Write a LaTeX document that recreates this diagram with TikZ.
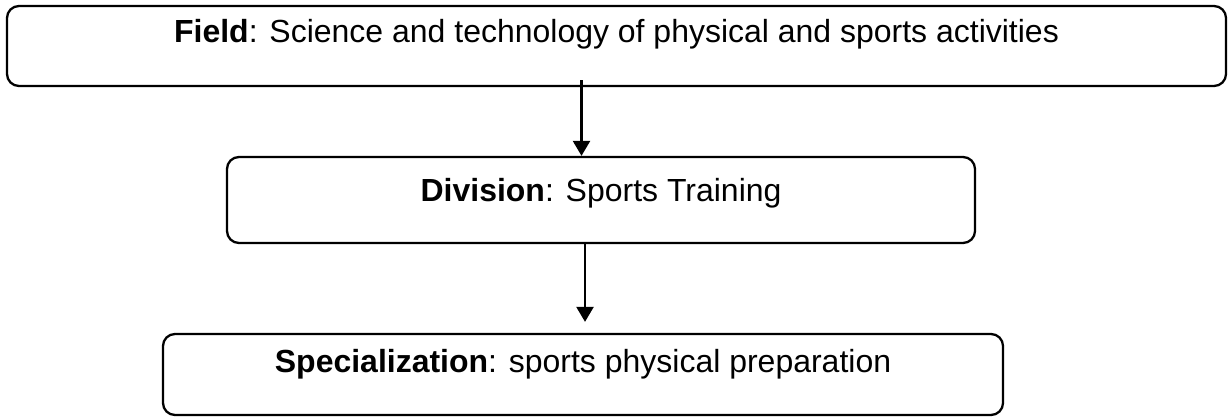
\documentclass[tikz,border=0pt]{standalone}
\usepackage{fontspec}
\setmainfont{Liberation Sans}
\usetikzlibrary{arrows.meta}
\begin{document}
\begin{tikzpicture}[scale=1, transform shape]
			\tikzset{>={Triangle[width=0.17cm,length=0.15cm]}}
			\tikzset{level/.style={draw,line width=0.65pt,rounded corners=0.12cm,inner sep=0pt,text height=0.23cm,font=\fontsize{9.1pt}{11pt}\selectfont}}
			\useasboundingbox (0,0) rectangle (12.28,4.16);

			\node[level,minimum width=12.19cm,minimum height=0.80cm,text depth=0.29cm] (field) at (6.165,3.70) {\textbf{Field}: Science and technology of physical and sports activities};
			\node[level,minimum width=7.48cm,minimum height=0.86cm,text depth=0.19cm] (division) at (6.01,2.16) {\textbf{Division}: Sports Training};
			\node[level,minimum width=8.40cm,minimum height=0.81cm,text depth=0.28cm] (special) at (5.83,0.415) {\textbf{Specialization}: sports physical preparation};

			\coordinate (f1) at ([xshift=-0.35cm,yshift=0.07cm]field.south);
			\coordinate (d1) at ([xshift=-0.16cm]division.south);
			\draw[->,line width=0.7pt] (f1) -- (f1 |- division.north);
			\draw[->,line width=0.7pt,shorten >=0.11cm] (d1) -- (d1 |- special.north);
		\end{tikzpicture}
\end{document}
